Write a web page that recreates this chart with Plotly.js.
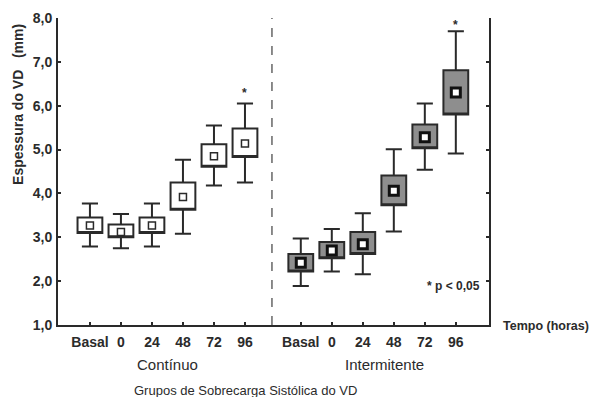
<!DOCTYPE html>
<html>
<head>
<meta charset="utf-8">
<script src="https://cdn.plot.ly/plotly-3.0.1.min.js"></script>
<style>html,body{margin:0;padding:0;background:#fff;}#chart{width:591px;height:397px;}</style>
</head>
<body>
<div id="chart"></div>
<script>
// Tick labels (time points)
var timeLabels = ["Basal", "0", "24", "48", "72", "96"];
var groupNames = ["Contínuo", "Intermitente"];

// Contínuo group: mean, box (q1..q3), whiskers (low..high)
var contMean = [3.27, 3.12, 3.27, 3.92, 4.85, 5.14];
var contQ1   = [3.10, 3.00, 3.10, 3.63, 4.61, 4.83];
var contQ3   = [3.45, 3.29, 3.45, 4.25, 5.12, 5.48];
var contLow  = [2.79, 2.75, 2.79, 3.08, 4.18, 4.25];
var contHigh = [3.77, 3.53, 3.77, 4.77, 5.55, 6.05];

// Intermitente group
var intMean = [2.42, 2.70, 2.84, 4.06, 5.28, 6.30];
var intQ1   = [2.22, 2.52, 2.62, 3.73, 5.03, 5.80];
var intQ3   = [2.62, 2.89, 3.12, 4.41, 5.57, 6.81];
var intLow  = [1.89, 2.22, 2.16, 3.13, 4.54, 4.91];
var intHigh = [2.97, 3.19, 3.55, 5.01, 6.05, 7.70];

// significance marks (index within group, y of asterisk)
var sigCont = {idx: 5, y: 6.28};
var sigInt  = {idx: 5, y: 7.84};

var GAP = 6.8;
var xCont = timeLabels.map(function(_, i){ return i + 1; });
var xInt  = timeLabels.map(function(_, i){ return i + 1 + GAP; });

var dark = '#2a2a2a';
var txt = '#2b2b2b';
var fontB = 'Liberation Sans, Arial, sans-serif';

function boxTrace(x, q1, q3, lo, hi, fill){
  return {
    type: 'box', x: x, q1: q1, median: q1, q3: q3,
    lowerfence: lo, upperfence: hi,
    width: 0.8, whiskerwidth: 0.65,
    fillcolor: fill, line: {color: dark, width: 2},
    boxpoints: false, showlegend: false, hoverinfo: 'skip'
  };
}

var traces = [
  boxTrace(xCont, contQ1, contQ3, contLow, contHigh, '#ffffff'),
  boxTrace(xInt, intQ1, intQ3, intLow, intHigh, '#8e8e8e'),
  {type: 'scatter', mode: 'markers', x: xCont, y: contMean, showlegend: false,
   marker: {symbol: 'square', size: 7, color: '#ffffff', line: {color: dark, width: 1.5}}},
  {type: 'scatter', mode: 'markers', x: xInt, y: intMean, showlegend: false,
   marker: {symbol: 'square', size: 9, color: '#ffffff', line: {color: '#111', width: 3}}}
];

var tickvals = xCont.concat(xInt);
var ticktext = timeLabels.concat(timeLabels);
var xMin = -0.03, xMax = 13.87;
var divider = (xCont[xCont.length-1] + xInt[0]) / 2 - 0.03;

function mean(a){ return a.reduce(function(s,v){return s+v;},0)/a.length; }

var layout = {
  width: 591, height: 397,
  margin: {l: 58, r: 102, t: 18, b: 72},
  paper_bgcolor: '#fff', plot_bgcolor: '#fff',
  boxmode: 'overlay',
  font: {family: fontB, color: txt, size: 13},
  separators: ',.',
  xaxis: {
    range: [xMin, xMax], tickvals: tickvals, ticktext: ticktext,
    showgrid: false, zeroline: false,
    showline: true, linecolor: dark, linewidth: 2, mirror: false,
    ticks: 'inside', ticklen: 3, tickwidth: 2, tickcolor: dark,
    tickfont: {family: fontB, size: 14, color: txt, weight: 'bold'},
    ticklabelstandoff: 3
  },
  xaxis2: {
    overlaying: 'x', side: 'top', matches: 'x', range: [xMin, xMax],
    tickvals: tickvals, showticklabels: false,
    showgrid: false, zeroline: false,
    showline: true, linecolor: '#777', linewidth: 1.5,
    ticks: 'inside', ticklen: 3, tickwidth: 2, tickcolor: dark
  },
  yaxis: {
    range: [1, 8], dtick: 1, tickformat: '.1f',
    showgrid: false, zeroline: false,
    showline: true, linecolor: dark, linewidth: 2, mirror: 'ticks',
    ticks: 'inside', ticklen: 3, tickwidth: 2, tickcolor: dark,
    tickfont: {family: fontB, size: 14, color: txt, weight: 'bold'},
    ticklabelstandoff: 1
  },
  shapes: [
    {type: 'line', xref: 'x', yref: 'paper', x0: divider, x1: divider, y0: 0, y1: 1,
     line: {color: '#666', width: 1.5, dash: 'dash'}}
  ],
  annotations: [
    {text: 'Espessura do VD   (mm)', xref: 'paper', yref: 'paper', x: -0.093, y: 0.72,
     textangle: -90, showarrow: false, xanchor: 'center', yanchor: 'middle',
     font: {family: fontB, size: 14, color: txt, weight: 'bold'}},
    {text: groupNames[0], xref: 'x', yref: 'paper', x: mean(xCont), y: -0.13,
     showarrow: false, yanchor: 'middle', font: {family: fontB, size: 15, color: txt}},
    {text: groupNames[1], xref: 'x', yref: 'paper', x: mean(xInt) + 0.2, y: -0.13,
     showarrow: false, yanchor: 'middle', font: {family: fontB, size: 15, color: txt}},
    {text: 'Grupos de Sobrecarga Sistólica do VD', xref: 'paper', yref: 'paper', x: 0.435, y: -0.213,
     showarrow: false, yanchor: 'middle', font: {family: fontB, size: 13, color: txt}},
    {text: 'Tempo (horas)', xref: 'paper', yref: 'paper', x: 1.028, y: -0.003,
     showarrow: false, xanchor: 'left', yanchor: 'middle',
     font: {family: fontB, size: 12.5, color: txt, weight: 'bold'}},
    {text: '* p < 0,05', xref: 'paper', yref: 'y', x: 0.851, y: 1.88,
     showarrow: false, xanchor: 'left', yanchor: 'middle',
     font: {family: fontB, size: 12, color: txt, weight: 'bold'}},
    {text: '*', xref: 'x', yref: 'y', x: xCont[sigCont.idx], y: sigCont.y,
     showarrow: false, yanchor: 'middle', font: {family: fontB, size: 12, color: txt, weight: 'bold'}},
    {text: '*', xref: 'x', yref: 'y', x: xInt[sigInt.idx], y: sigInt.y,
     showarrow: false, yanchor: 'middle', font: {family: fontB, size: 12, color: txt, weight: 'bold'}}
  ]
};

Plotly.newPlot('chart', traces, layout, {displayModeBar: false, staticPlot: true});
</script>
</body>
</html>
